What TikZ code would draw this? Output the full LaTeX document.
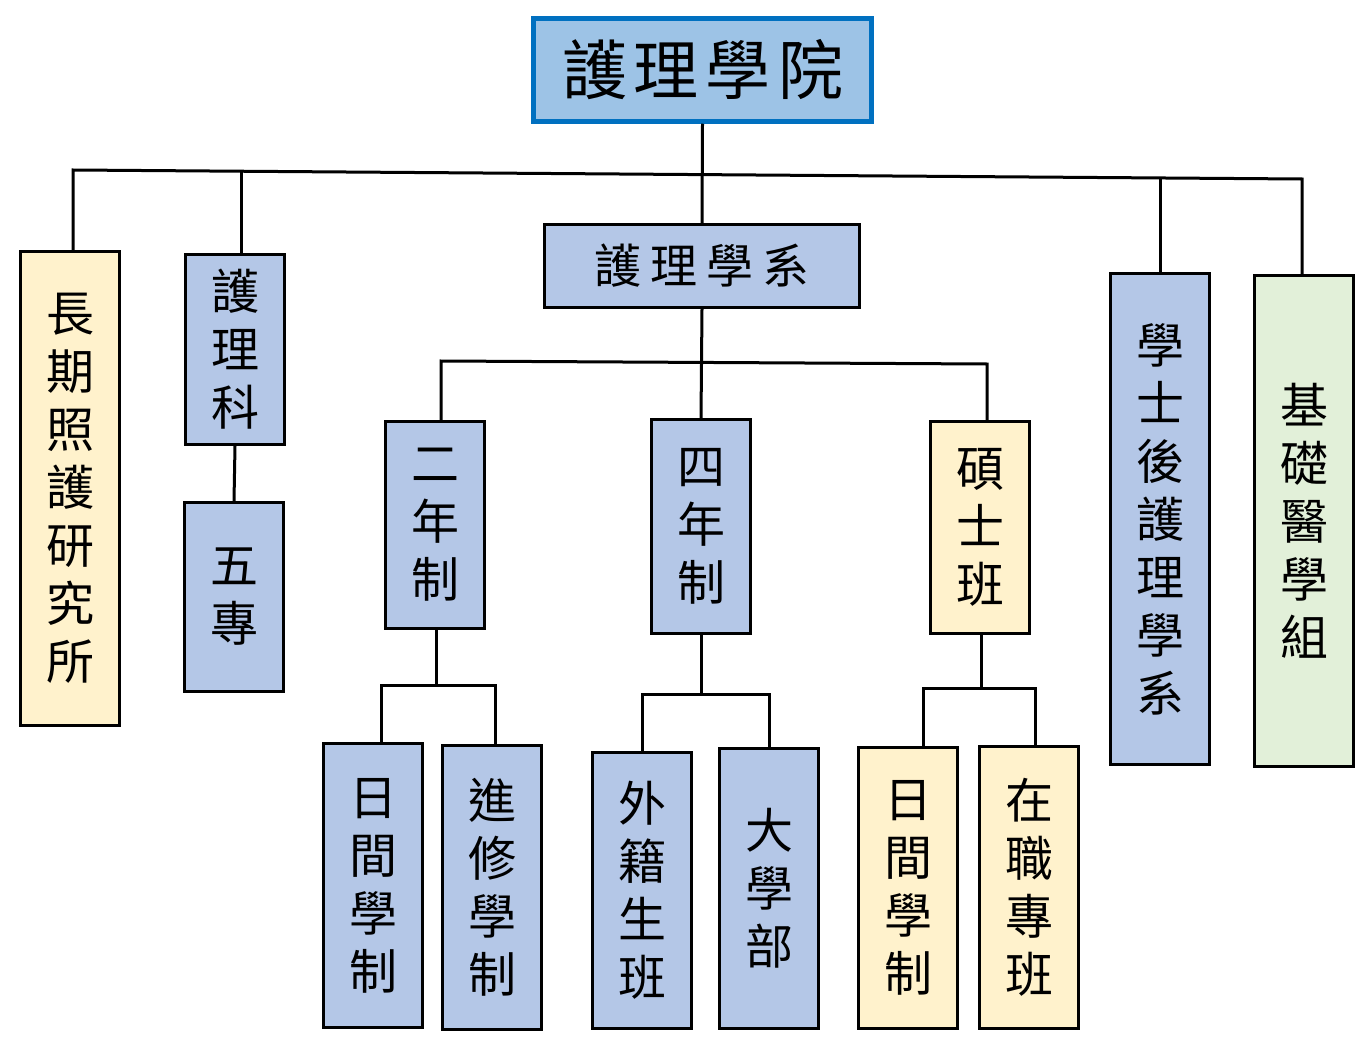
\documentclass[tikz,border=0pt]{standalone}
\usepackage{fontspec}
\newfontfamily\cjk{Noto Sans CJK TC}
\definecolor{boxblue}{HTML}{B4C7E7}
\definecolor{boxyellow}{HTML}{FFF2CC}
\definecolor{boxgreen}{HTML}{E2F0D9}
\definecolor{rootfill}{HTML}{9DC3E6}
\definecolor{rootline}{HTML}{0070C0}
\newcommand\orgbox[7]{%
  \node[obox,fill=#6,minimum width={(#4-#2-3)*1pt},minimum height={(#5-#3-3)*1pt}]
    (#1) at ({(#2+#4)/2},{(#3+#5)/2}) {#7};}
\begin{document}
\begin{tikzpicture}[x=1pt,y=-1pt,line width=3pt,
  obox/.style={draw=black,line width=3pt,inner sep=0pt,align=center,
    font=\cjk\fontsize{48}{58}\selectfont},
  conn/.style={draw=black,line width=3pt}]
\useasboundingbox (0,0) rectangle (1357,1043);
% root
\node[draw=rootline,line width=4.5pt,fill=rootfill,inner sep=0pt,
  minimum width=338pt,minimum height=103pt,font=\cjk\fontsize{65}{70}\selectfont]
  (root) at (702.5,70) {護\hspace{7pt}理\hspace{7pt}學\hspace{7pt}院};
\orgbox{dept}{543}{223}{861}{309}{boxblue}{\fontsize{47}{50}\selectfont 護\hspace{9pt}理\hspace{9pt}學\hspace{9pt}系}
\orgbox{ltc}{19}{250}{121}{727}{boxyellow}{長\\期\\照\\護\\研\\究\\所}
\orgbox{nsub}{184}{253}{286}{446}{boxblue}{護\\理\\科}
\orgbox{five}{183}{501}{285}{693}{boxblue}{五\\專}
\orgbox{post}{1109}{272}{1211}{766}{boxblue}{學\\士\\後\\護\\理\\學\\系}
\orgbox{basic}{1253}{274}{1355}{768}{boxgreen}{基\\礎\\醫\\學\\組}
\orgbox{two}{384}{420}{486}{630}{boxblue}{二\\年\\制}
\orgbox{four}{650}{418}{752}{635}{boxblue}{四\\年\\制}
\orgbox{mas}{929}{420}{1031}{635}{boxyellow}{碩\\士\\班}
\orgbox{dtwo}{322}{742}{424}{1029}{boxblue}{日\\間\\學\\制}
\orgbox{etwo}{441}{744}{543}{1031}{boxblue}{進\\修\\學\\制}
\orgbox{ffour}{591}{751}{693}{1030}{boxblue}{外\\籍\\生\\班}
\orgbox{ufour}{718}{747}{820}{1030}{boxblue}{大\\學\\部}
\orgbox{dmas}{857}{746}{959}{1030}{boxyellow}{日\\間\\學\\制}
\orgbox{wmas}{978}{745}{1080}{1030}{boxyellow}{在\\職\\專\\班}
% junctions
\coordinate (bl) at (73,170);
\coordinate (br) at (1302,179);
\coordinate (jnsub) at (241,171);
\coordinate (jpost) at (1160,178);
\coordinate (sl) at (441,361);
\coordinate (sr) at (987,364);
\coordinate (jtwo) at (436,685);
\coordinate (jfour) at (701,694);
\coordinate (jmas) at (981,688);
% connectors
\draw[conn] (root.south) -- (dept.north);
\draw[conn] (ltc.north -| bl) -- (bl) -- (br) -- (basic.north -| br);
\draw[conn] (nsub.north -| jnsub) -- (jnsub);
\draw[conn] (post.north -| jpost) -- (jpost);
\draw[conn] (nsub.south) -- (five.north);
\draw[conn] (dept.south) -- (four.north);
\draw[conn] (two.north -| sl) -- (sl) -- (sr) -- (mas.north -| sr);
\draw[conn] (two.south -| jtwo) -- (jtwo);
\draw[conn] ([xshift=8pt]dtwo.north) |- (jtwo) -| ([xshift=3pt]etwo.north);
\draw[conn] (four.south) -- (jfour);
\draw[conn] (ffour.north) |- (jfour) -| (ufour.north);
\draw[conn] (mas.south -| jmas) -- (jmas);
\draw[conn] ([xshift=15pt]dmas.north) |- (jmas) -| ([xshift=6pt]wmas.north);
\end{tikzpicture}
\end{document}
